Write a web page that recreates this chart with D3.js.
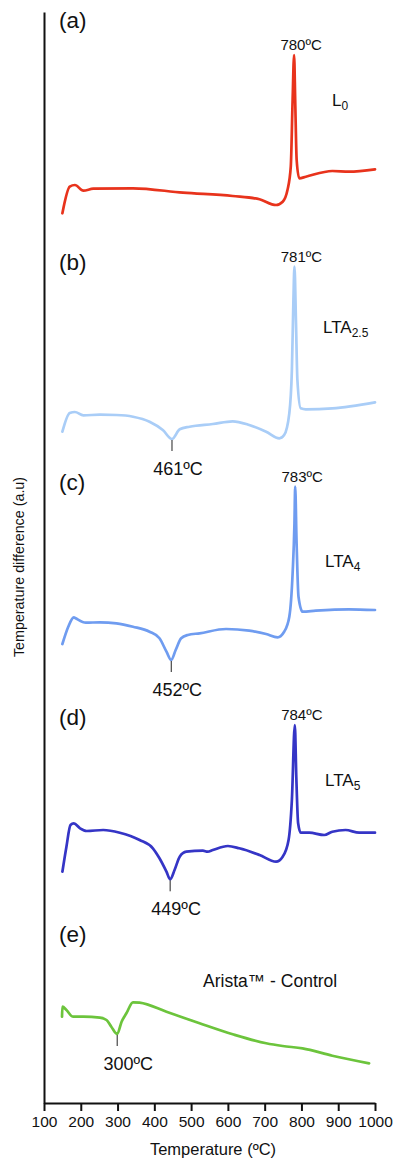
<!DOCTYPE html>
<html>
<head>
<meta charset="utf-8">
<script src="https://cdn.jsdelivr.net/npm/d3@7"></script>
<style>
  html, body { margin: 0; padding: 0; background: #fff; }
  svg { display: block; font-family: "Liberation Sans", Arial, Helvetica, sans-serif; }
</style>
</head>
<body>
<svg id="chart" width="396" height="1163"></svg>
<script>
// ---- Data (temperature in ºC, signal in arbitrary units) ----
const xTicks = [100, 200, 300, 400, 500, 600, 700, 800, 900, 1000];

const tempsA  = [150,170,184,207,234,342,478,613,686,731,749,762,771,776,780,783,787,794,812,884,929,1000];
const signalA = [0.97,3.63,3.8,3.23,3.43,3.47,3.03,2.7,2.37,1.8,2.13,3.3,5.63,12.3,16.8,12.3,6.3,4.47,4.63,5.2,5.13,5.37];

const tempsB  = [150,170,184,207,252,297,342,387,423,448,469,496,559,613,658,704,740,753,767,774,778,781,785,789,798,812,884,1000];
const signalB = [1.13,3.0,3.1,2.77,2.83,2.8,2.63,2.13,1.3,0.4,1.37,1.63,1.9,2.17,1.8,1.13,0.47,0.8,2.97,7.3,14.0,17.63,12.3,6.3,3.47,3.37,3.47,4.07];

const tempsC  = [150,166,181,186,214,252,297,342,387,414,433,446,458,473,491,523,595,658,704,735,753,767,776,781,783,786.6,792,803,839,929,1000];
const signalC = [1.9,3.63,4.57,4.47,4.03,4.07,3.97,3.63,3.13,2.47,1.13,0.3,1.3,2.47,2.8,2.97,3.4,3.23,2.9,2.57,3.13,4.63,8.97,13.97,17.63,12.3,6.63,5.13,5.23,5.37,5.3];

const tempsD  = [150,161,172,181,198,216,261,306,360,396,414,433,443,455,469,487,532,545,559,600,631,686,731,749,765,774,782,786,791,798,821,862,884,920,957,1000];
const signalD = [1.13,3.63,5.8,5.97,5.47,5.2,5.3,5.03,4.3,3.47,2.47,1.13,0.37,1.3,2.63,3.13,3.23,3.13,3.3,3.7,3.47,2.8,2.13,2.63,4.3,8.3,15.8,10.63,5.97,5.03,5.03,4.8,5.13,5.3,5.03,5.03];

const tempsE  = [149,150,161,179,207,252,270,283,299,311,324,342,360,433,523,613,704,749,803,884,984];
const signalE = [8.63,9.63,9.3,8.63,8.63,8.53,8.3,7.63,6.9,8.13,8.97,10.07,10.03,9.13,7.97,6.87,5.97,5.7,5.47,4.73,3.97];

const panelLetters = ["(a)", "(b)", "(c)", "(d)", "(e)"];
const panelOffsets = [88, 66, 44, 22, 0];
const panelColors  = ["#e8331c", "#a9cdf7", "#6f9cf0", "#3535c6", "#6cc43c"];

const peakTemps  = [780, 781, 783, 782];
const peakLabels = ["780ºC", "781ºC", "783ºC", "784ºC"];

const troughTemps  = [null, 448, 446, 443, 299];
const troughLabels = [null, "461ºC", "452ºC", "449ºC", "300ºC"];

// ---- Layout ----
const svg = d3.select("#chart");
const x = d3.scaleLinear().domain([100, 1000]).range([44, 375]);
const y = d3.scaleLinear().domain([0, 109.1]).range([1103, 12]);

const series = [
  {t: tempsA, v: signalA},
  {t: tempsB, v: signalB},
  {t: tempsC, v: signalC},
  {t: tempsD, v: signalD},
  {t: tempsE, v: signalE}
];

const line = d3.line()
  .x(d => x(d[0]))
  .y(d => y(d[1]))
  .curve(d3.curveMonotoneX);

series.forEach((s, i) => {
  const pts = s.t.map((t, j) => [t, s.v[j] + panelOffsets[i]]);
  svg.append("path")
    .attr("d", line(pts))
    .attr("fill", "none")
    .attr("stroke", panelColors[i])
    .attr("stroke-width", 2.7)
    .attr("stroke-linejoin", "round")
    .attr("stroke-linecap", "round");

  // panel letter
  const letterBase = [28, 270, 489.5, 724.5, 941.5][i];
  svg.append("text")
    .attr("x", 59).attr("y", letterBase)
    .attr("font-size", 22.5).attr("fill", "#111")
    .text(panelLetters[i]);

  // peak label
  if (i < 4) {
    const pk = peakTemps[i];
    const pv = s.v[s.t.indexOf(pk)] + panelOffsets[i];
    svg.append("text")
      .attr("x", x(pk) + 7).attr("y", y(pv) - 5)
      .attr("text-anchor", "middle")
      .attr("font-size", 15).attr("fill", "#111")
      .text(peakLabels[i]);
  }

  // trough annotation
  if (troughTemps[i] !== null) {
    const tt = troughTemps[i];
    const tv = s.v[s.t.indexOf(tt)] + panelOffsets[i];
    const ty = y(tv);
    svg.append("line")
      .attr("x1", x(tt)).attr("x2", x(tt))
      .attr("y1", ty + 1).attr("y2", ty + 12)
      .attr("stroke", "#222").attr("stroke-width", 1);
    svg.append("text")
      .attr("x", x(tt) + (i === 4 ? 11 : 6)).attr("y", ty + 36)
      .attr("text-anchor", "middle")
      .attr("font-size", 18).attr("fill", "#111")
      .text(troughLabels[i]);
  }
});

// sample names
function subName(xp, yp, main, sub) {
  const t = svg.append("text").attr("x", xp).attr("y", yp)
    .attr("font-size", 17).attr("fill", "#111");
  t.append("tspan").text(main);
  t.append("tspan").attr("font-size", 12).attr("dy", 4).text(sub);
}
subName(332, 106, "L", "0");
subName(323, 333, "LTA", "2.5");
subName(325, 567, "LTA", "4");
subName(325, 786, "LTA", "5");
svg.append("text")
  .attr("x", 203).attr("y", 987)
  .attr("font-size", 17.5).attr("fill", "#111")
  .text("Arista™ - Control");

// ---- Axes ----
const xAxis = svg.append("g")
  .attr("transform", `translate(0,${y(0)})`)
  .call(d3.axisBottom(x).tickValues(xTicks).tickSize(8).tickSizeOuter(0).tickFormat(d3.format("d")));
xAxis.attr("font-size", null).attr("font-family", null);
xAxis.select(".domain").attr("stroke", "#111").attr("stroke-width", 2);
xAxis.selectAll(".tick line").attr("stroke", "#111").attr("stroke-width", 2);
xAxis.selectAll(".tick text")
  .attr("font-size", 15.5).attr("fill", "#111")
  .attr("dy", "0.85em");

const yAxis = svg.append("g")
  .attr("transform", `translate(${x(100)},0)`)
  .call(d3.axisLeft(y).tickValues([]).tickSizeOuter(0));
yAxis.select(".domain").attr("stroke", "#111").attr("stroke-width", 2);

svg.append("text")
  .attr("x", 213).attr("y", 1155)
  .attr("text-anchor", "middle")
  .attr("font-size", 16.5).attr("fill", "#111")
  .text("Temperature (ºC)");

svg.append("text")
  .attr("transform", "translate(24,567) rotate(-90)")
  .attr("text-anchor", "middle")
  .attr("font-size", 14.3).attr("fill", "#111")
  .text("Temperature difference (a.u)");
</script>
</body>
</html>
